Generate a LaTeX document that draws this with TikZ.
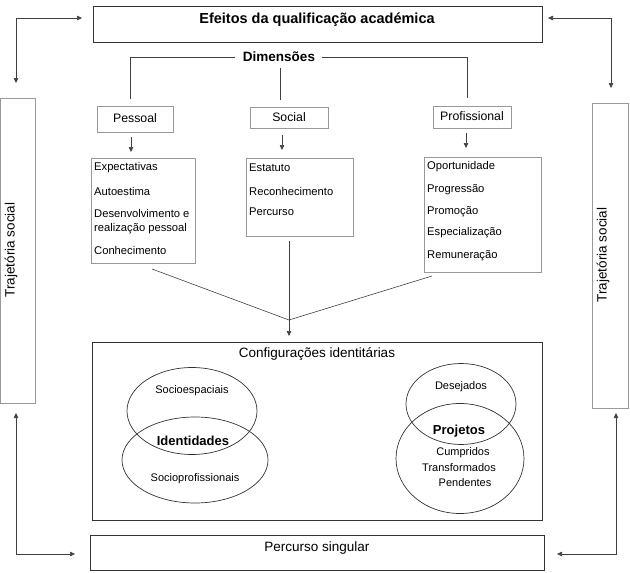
\documentclass[tikz,border=0pt]{standalone}
\usepackage{fontspec}
\setmainfont{Liberation Sans}
\usetikzlibrary{arrows.meta,shapes.geometric}
\begin{document}
\begin{tikzpicture}[x=1pt,y=-1pt,
  dark/.style={draw=black!80, line width=0.9pt, inner sep=0pt},
  light/.style={draw=black!40, line width=0.6pt, inner sep=0pt},
  conn/.style={draw=black!75, line width=0.6pt},
  tipend/.style={conn,-{Triangle[length=5pt,width=4.5pt]}},
  dtip/.style={conn,{Triangle[length=5pt,width=4.5pt]}-{Triangle[length=5pt,width=4.5pt]}},
  txt/.style={inner sep=0pt},
  itemtxt/.style={anchor=west, inner sep=0pt, font=\fontsize{11.2}{13}\selectfont},
  boxtxt/.style={inner sep=0pt, font=\fontsize{12.3}{14}\selectfont},
  elltxt/.style={inner sep=0pt, font=\fontsize{11}{13}\selectfont},
  ell/.style={ellipse, draw=black!80, line width=0.7pt, inner sep=0pt},
  ]
\useasboundingbox (0,0) rectangle (630,573);

% top box
\node[dark, minimum width=449pt, minimum height=36pt] (top) at (317.5,24) {};
\node[txt, font=\fontsize{14.5}{17}\bfseries] (toptxt) at (317,20) {Efeitos da qualificação académica};

% side boxes
\node[light, minimum width=35pt, minimum height=305pt] (lside) at (18,251) {};
\node[txt, rotate=90, font=\fontsize{13.5}{16}\selectfont] (lsidetxt) at (11,250) {Trajetória social};
\node[light, minimum width=36pt, minimum height=305pt] (rside) at (610,255.5) {};
\node[txt, rotate=90, font=\fontsize{13.5}{16}\selectfont] (rsidetxt) at (603,255) {Trajetória social};

% corner arrows
\coordinate (tl1) at (16,83);
\coordinate (tl2) at (82,18);
\draw[dtip] (tl1) |- (tl2);
\coordinate (tr1) at (548,18);
\coordinate (tr2) at (611,88);
\draw[dtip] (tr1) -| (tr2);
\coordinate (bl1) at (16,413);
\coordinate (bl2) at (75,554);
\draw[dtip] (bl1) |- (bl2);
\coordinate (br1) at (616,413);
\coordinate (br2) at (557,554);
\draw[dtip] (br1) |- (br2);

% Dimensoes
\node[txt, font=\fontsize{13.5}{16}\bfseries] (dim) at (279,57) {Dimensões};
\coordinate (d1) at (235,57);
\coordinate (d2) at (130,99);
\draw[conn] (d1) -| (d2);
\coordinate (d3) at (322,57);
\coordinate (d4) at (467,98);
\draw[conn] (d3) -| (d4);
\coordinate (d5) at (280,68);
\coordinate (d6) at (280,100);
\draw[conn] (d5) -- (d6);

% dimension boxes
\node[light, minimum width=76pt, minimum height=26pt] (pes) at (135,119) {};
\node[boxtxt] (pestxt) at (135,118) {Pessoal};
\node[light, minimum width=78pt, minimum height=21pt] (soc) at (289,117.5) {};
\node[boxtxt] (soctxt) at (289,117) {Social};
\node[light, minimum width=78pt, minimum height=22pt] (pro) at (472,117) {};
\node[boxtxt] (protxt) at (472,116) {Profissional};

% small arrows
\coordinate (pa1) at (131,137); \coordinate (pa2) at (131,152);
\draw[tipend] (pa1) -- (pa2);
\coordinate (sa1) at (282,135); \coordinate (sa2) at (282,150);
\draw[tipend] (sa1) -- (sa2);
\coordinate (ra1) at (466,133); \coordinate (ra2) at (466,148);
\draw[tipend] (ra1) -- (ra2);

% list boxes
\node[light, minimum width=104pt, minimum height=105pt] (pesl) at (143,210.5) {};
\node[itemtxt] (p1) at (94,168) {Expectativas};
\node[itemtxt] (p2) at (94,191) {Autoestima};
\node[itemtxt] (p3) at (94,213) {Desenvolvimento e};
\node[itemtxt] (p4) at (94,229) {realização pessoal};
\node[itemtxt] (p5) at (94,250) {Conhecimento};

\node[light, minimum width=107pt, minimum height=78pt] (socl) at (299.5,197) {};
\node[itemtxt] (s1) at (249,168) {Estatuto};
\node[itemtxt] (s2) at (249,191) {Reconhecimento};
\node[itemtxt] (s3) at (249,212) {Percurso};

\node[light, minimum width=117pt, minimum height=115pt] (prol) at (482.5,214.5) {};
\node[itemtxt] (r1) at (427,167) {Oportunidade};
\node[itemtxt] (r2) at (427,190) {Progressão};
\node[itemtxt] (r3) at (427,212) {Promoção};
\node[itemtxt] (r4) at (427,233) {Especialização};
\node[itemtxt] (r5) at (427,256) {Remuneração};

% converging connectors
\coordinate (j) at (289,320);
\coordinate (cl) at (152,269);
\coordinate (cr) at (432,276);
\coordinate (cs) at (289,241);
\coordinate (ce) at (289,336);
\draw[conn] (cl) -- (j) -- (cr);
\draw[tipend] (cs) -- (ce);

% configuracoes box
\node[dark, minimum width=450pt, minimum height=178pt] (conf) at (317,431) {};
\node[txt, font=\fontsize{13.5}{16}\selectfont] (conftxt) at (317,354) {Configurações identitárias};

% left ellipses
\node[ell, minimum width=130pt, minimum height=87pt] (e1) at (192,411) {};
\node[ell, minimum width=146pt, minimum height=86pt] (e2) at (195,460) {};
\node[elltxt] (e1t) at (192,391) {Socioespaciais};
\node[txt, font=\fontsize{13}{15}\bfseries] (idt) at (193,441) {Identidades};
\node[elltxt] (e2t) at (195,479) {Socioprofissionais};

% right ellipses
\node[ell, minimum width=110pt, minimum height=81pt] (e3) at (461,404) {};
\node[ell, minimum width=128pt, minimum height=110pt] (e4) at (460,458.5) {};
\node[elltxt] (e3t) at (461,387) {Desejados};
\node[txt, font=\fontsize{13}{15}\bfseries] (prj) at (459,431) {Projetos};
\node[elltxt] (e4a) at (463,453) {Cumpridos};
\node[elltxt] (e4b) at (459,468) {Transformados};
\node[elltxt] (e4c) at (465,483) {Pendentes};

% bottom box
\node[dark, minimum width=454pt, minimum height=35pt] (bot) at (317,552.5) {};
\node[txt, font=\fontsize{13.5}{16}\selectfont] (bottxt) at (317,548) {Percurso singular};

\end{tikzpicture}
\end{document}
